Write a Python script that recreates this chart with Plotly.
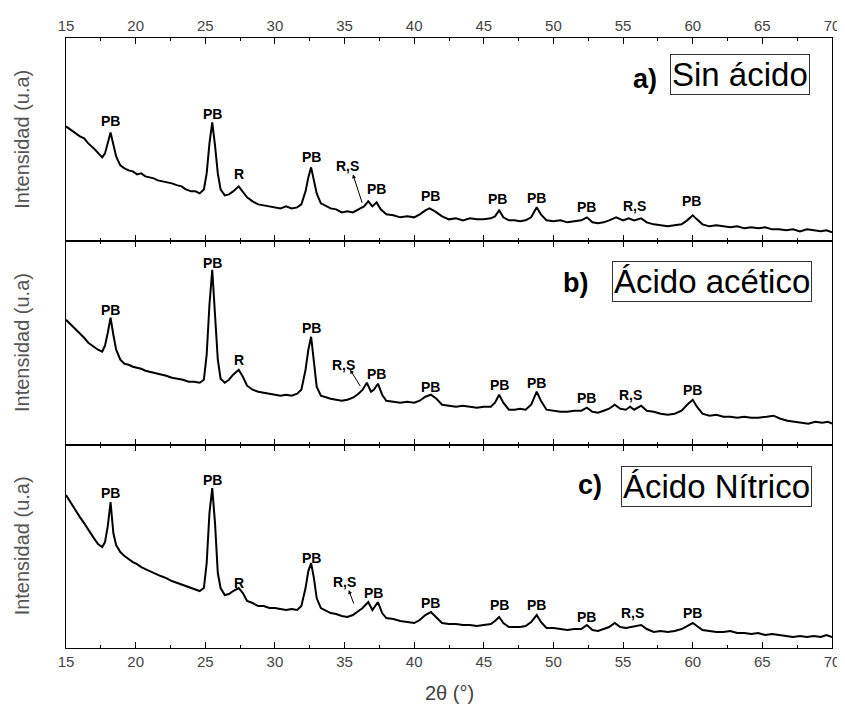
import plotly.graph_objects as go
from plotly.subplots import make_subplots

# ---------------- data (2θ, intensity in arbitrary units) ----------------
x_a = [15.0, 15.3, 15.6, 16.0, 16.3, 16.6, 17.0, 17.3, 17.6, 17.8, 18.0, 18.2, 18.4, 18.6, 18.9, 19.2, 19.5, 19.8,
       20.1, 20.4, 20.7, 21.0, 21.3, 21.6, 22.0, 22.3, 22.6, 23.0, 23.3, 23.6, 24.0, 24.3, 24.6, 24.9, 25.1, 25.3,
       25.5, 25.7, 25.9, 26.1, 26.4, 26.7, 27.0, 27.4, 27.7, 28.0, 28.4, 28.8, 29.2, 29.6, 30.0, 30.4, 30.8, 31.2,
       31.6, 31.9, 32.2, 32.4, 32.6, 32.8, 33.0, 33.3, 33.7, 34.0, 34.4, 34.8, 35.2, 35.6, 36.0, 36.4, 36.7, 37.0,
       37.3, 37.6, 38.0, 38.5, 39.0, 39.5, 40.0, 40.4, 40.8, 41.1, 41.5, 42.0, 42.5, 43.0, 43.5, 44.0, 44.5, 45.0,
       45.5, 45.8, 46.1, 46.4, 46.8, 47.2, 47.6, 48.0, 48.4, 48.8, 49.1, 49.5, 50.0, 50.5, 51.0, 51.5, 52.0, 52.4,
       52.8, 53.2, 53.6, 54.0, 54.5, 55.0, 55.4, 55.8, 56.3, 56.7, 57.2, 57.7, 58.2, 58.7, 59.2, 59.6, 60.0, 60.3,
       60.7, 61.2, 61.7, 62.2, 62.7, 63.2, 63.7, 64.2, 64.7, 65.2, 65.7, 66.2, 66.7, 67.2, 67.7, 68.2, 68.7, 69.2,
       69.6, 70.0]
y_a = [115, 112, 109, 105, 103, 98, 93, 88, 84, 88, 98, 109, 97, 85, 76, 73, 71, 70,
       67, 68, 65, 64, 63, 61, 60, 59, 58, 56, 55, 52, 50, 50, 48, 52, 68, 98,
       119, 96, 68, 52, 46, 47, 50, 55, 50, 44, 40, 37, 36, 35, 34, 33, 35, 33,
       34, 37, 50, 64, 74, 62, 48, 38, 35, 33, 32, 29, 30, 29, 32, 35, 40, 35,
       39, 32, 27, 26, 24, 25, 24, 27, 31, 33, 30, 25, 22, 23, 21, 23, 22, 22,
       23, 25, 31, 24, 21, 21, 20, 21, 24, 34, 27, 21, 20, 21, 19, 20, 21, 24,
       19, 18, 19, 21, 24, 21, 23, 21, 23, 19, 17, 16, 15, 16, 17, 21, 26, 22,
       17, 15, 16, 15, 14, 15, 13, 14, 13, 14, 12, 12, 11, 12, 10, 12, 11, 10,
       11, 9]

x_b = [15.0, 15.3, 15.6, 16.0, 16.3, 16.6, 17.0, 17.3, 17.6, 17.8, 18.0, 18.2, 18.4, 18.6, 18.9, 19.2, 19.5, 19.8,
       20.1, 20.4, 20.7, 21.0, 21.4, 21.8, 22.2, 22.6, 23.0, 23.4, 23.8, 24.2, 24.6, 24.9, 25.1, 25.3, 25.5, 25.7,
       25.9, 26.1, 26.4, 26.7, 27.0, 27.4, 27.7, 28.0, 28.4, 28.8, 29.2, 29.6, 30.0, 30.4, 30.8, 31.2, 31.6, 31.9,
       32.2, 32.4, 32.6, 32.8, 33.0, 33.3, 33.7, 34.0, 34.4, 34.8, 35.2, 35.6, 36.0, 36.3, 36.6, 36.9, 37.1, 37.4,
       37.7, 38.0, 38.5, 39.0, 39.5, 40.0, 40.4, 40.8, 41.2, 41.6, 42.0, 42.5, 43.0, 43.5, 44.0, 44.5, 45.0, 45.5,
       45.8, 46.1, 46.4, 46.8, 47.2, 47.6, 48.0, 48.4, 48.8, 49.1, 49.5, 50.0, 50.5, 51.0, 51.5, 52.0, 52.4, 52.8,
       53.2, 53.6, 54.0, 54.4, 54.8, 55.2, 55.5, 55.8, 56.3, 56.7, 57.2, 57.7, 58.2, 58.7, 59.2, 59.6, 60.0, 60.3,
       60.7, 61.2, 61.7, 62.2, 62.7, 63.2, 63.7, 64.2, 64.7, 65.3, 65.8, 66.3, 66.8, 67.3, 67.8, 68.3, 68.8, 69.3,
       69.7, 70.0]
y_b = [125, 121, 117, 111, 107, 102, 98, 95, 93, 99, 112, 127, 110, 95, 85, 81, 80, 78,
       77, 76, 74, 73, 72, 71, 69, 67, 66, 65, 63, 63, 62, 65, 90, 140, 175, 130,
       85, 66, 62, 65, 70, 75, 68, 59, 55, 53, 52, 51, 50, 49, 50, 49, 51, 55,
       75, 95, 108, 85, 58, 49, 47, 46, 45, 44, 45, 47, 51, 55, 62, 53, 55, 61,
       50, 44, 43, 42, 43, 42, 44, 48, 50, 46, 40, 39, 38, 39, 38, 37, 38, 38,
       42, 50, 42, 35, 35, 36, 35, 40, 53, 44, 35, 34, 33, 33, 34, 34, 37, 33,
       32, 34, 36, 40, 36, 35, 38, 35, 39, 34, 33, 31, 30, 31, 34, 40, 45, 38,
       31, 29, 30, 28, 28, 27, 28, 27, 27, 28, 29, 26, 24, 23, 22, 21, 23, 22,
       23, 21]

x_c = [15.0, 15.3, 15.6, 16.0, 16.3, 16.6, 17.0, 17.3, 17.6, 17.8, 18.0, 18.2, 18.4, 18.6, 18.9, 19.2, 19.5, 19.8,
       20.1, 20.4, 20.7, 21.0, 21.4, 21.8, 22.2, 22.6, 23.0, 23.4, 23.8, 24.2, 24.6, 24.9, 25.1, 25.3, 25.5, 25.7,
       25.9, 26.1, 26.4, 26.7, 27.0, 27.4, 27.7, 28.0, 28.4, 28.8, 29.2, 29.6, 30.0, 30.4, 30.8, 31.2, 31.6, 31.9,
       32.2, 32.4, 32.6, 32.8, 33.0, 33.3, 33.7, 34.0, 34.4, 34.8, 35.2, 35.6, 36.0, 36.3, 36.7, 37.0, 37.4, 37.7,
       38.0, 38.5, 39.0, 39.5, 40.0, 40.4, 40.8, 41.2, 41.6, 42.0, 42.5, 43.0, 43.5, 44.0, 44.5, 45.0, 45.5, 45.8,
       46.1, 46.4, 46.8, 47.2, 47.6, 48.0, 48.4, 48.8, 49.1, 49.5, 50.0, 50.5, 51.0, 51.5, 52.0, 52.4, 52.8, 53.2,
       53.6, 54.0, 54.4, 54.8, 55.2, 55.6, 56.0, 56.3, 56.7, 57.2, 57.7, 58.2, 58.7, 59.2, 59.6, 60.0, 60.3, 60.7,
       61.2, 61.7, 62.2, 62.7, 63.2, 63.7, 64.2, 64.7, 65.2, 65.7, 66.2, 66.7, 67.2, 67.7, 68.2, 68.7, 69.2, 69.6,
       70.0]
y_c = [153, 146, 140, 131, 125, 118, 110, 104, 101, 106, 122, 146, 115, 103, 96, 92, 89, 86,
       84, 81, 79, 77, 75, 72, 70, 67, 65, 63, 61, 59, 57, 60, 85, 135, 160, 125,
       75, 60, 53, 54, 57, 60, 55, 47, 45, 42, 42, 40, 40, 39, 38, 39, 38, 42,
       60, 77, 85, 70, 50, 40, 37, 35, 34, 32, 31, 33, 37, 40, 46, 38, 46, 35,
       30, 29, 27, 26, 25, 28, 33, 36, 30, 25, 24, 24, 23, 23, 22, 23, 24, 27,
       31, 25, 21, 21, 21, 22, 26, 33, 26, 20, 20, 19, 18, 19, 19, 23, 18, 17,
       19, 21, 25, 21, 20, 21, 22, 23, 19, 16, 17, 16, 17, 19, 22, 25, 22, 18,
       17, 16, 16, 17, 15, 15, 14, 15, 13, 14, 13, 12, 11, 12, 11, 12, 11, 13,
       11]

# peak labels: (text, 2θ position, height)
labels_a = [("PB", 18.2, 120), ("PB", 25.5, 127), ("R", 27.4, 67), ("PB", 32.6, 84), ("R,S", 35.2, 75),
            ("PB", 37.3, 52), ("PB", 41.2, 45), ("PB", 46.0, 42), ("PB", 48.8, 43), ("PB", 52.4, 34),
            ("R,S", 55.8, 35), ("PB", 59.9, 40)]
labels_b = [("PB", 18.2, 135), ("PB", 25.5, 182), ("R", 27.4, 85), ("PB", 32.6, 117), ("R,S", 34.9, 80),
            ("PB", 37.3, 71), ("PB", 41.2, 58), ("PB", 46.1, 60), ("PB", 48.8, 62), ("PB", 52.4, 47),
            ("R,S", 55.5, 50), ("PB", 60.0, 55)]
labels_c = [("PB", 18.2, 155), ("PB", 25.5, 168), ("R", 27.4, 65), ("PB", 32.6, 90), ("R,S", 35.0, 66),
            ("PB", 37.1, 55), ("PB", 41.2, 45), ("PB", 46.1, 43), ("PB", 48.8, 43), ("PB", 52.4, 31),
            ("R,S", 55.7, 35), ("PB", 60.0, 35)]
# arrows from R,S label (tip) to peak (tail)
arrows = [((35.6, 67), (36.3, 37)), ((35.4, 75), (36.2, 57)), ((35.3, 58), (35.7, 43))]

panel_tags = ["a)", "b)", "c)"]
panel_names = ["Sin ácido", "Ácido acético", "Ácido Nítrico"]
tag_pos = [(56.6, 162), (51.6, 162), (52.6, 163)]
name_pos = [(63.4, 167), (61.4, 163), (61.7, 162)]

x_ticks = [15, 20, 25, 30, 35, 40, 45, 50, 55, 60, 65, 70]

# ---------------- figure ----------------
fig = make_subplots(rows=3, cols=1, shared_xaxes=True, vertical_spacing=0)

for i, (xs, ys) in enumerate([(x_a, y_a), (x_b, y_b), (x_c, y_c)]):
    fig.add_trace(go.Scatter(x=xs, y=ys, mode="lines", line=dict(color="black", width=2),
                             showlegend=False, hoverinfo="skip"), row=i + 1, col=1)

tick_font = dict(family="Liberation Sans Narrow, Arial Narrow, Liberation Sans, Arial", size=15, color="#444444")
for r in range(1, 4):
    fig.update_xaxes(range=[15, 70], tickvals=x_ticks, ticks="inside", ticklen=6, tickwidth=1,
                     tickcolor="black", showline=True, linecolor="black", linewidth=1,
                     mirror="allticks", showgrid=False, zeroline=False, automargin=False,
                     minor=dict(dtick=2.5, tick0=15, ticks="inside", ticklen=3, tickcolor="black", showgrid=False),
                     tickfont=tick_font, showticklabels=(r in (1, 3)), row=r, col=1)
    fig.update_yaxes(range=[0, 203.5], showticklabels=False, ticks="", showline=True, linecolor="black",
                     linewidth=1, mirror=True, showgrid=False, zeroline=False, automargin=False, row=r, col=1)
fig.update_xaxes(side="top", row=1, col=1)

annotations = []
yrefs = ["y", "y2", "y3"]
lab_font = dict(family="Liberation Sans, Arial", size=14, color="black")
for yr, labels in zip(yrefs, [labels_a, labels_b, labels_c]):
    for txt, xv, yv in labels:
        annotations.append(dict(text="<b>%s</b>" % txt, x=xv, y=yv, xref="x", yref=yr, showarrow=False,
                                font=lab_font, xanchor="center", yanchor="middle"))
for yr, ((tx, ty), (sx, sy)) in zip(yrefs, arrows):
    annotations.append(dict(text="", x=tx, y=ty, ax=sx, ay=sy, xref="x", yref=yr, axref="x", ayref=yr,
                            showarrow=True, arrowhead=2, arrowsize=0.8, arrowwidth=1, arrowcolor="black"))
for yr, tag, name, (tx, ty), (nx, ny) in zip(yrefs, panel_tags, panel_names, tag_pos, name_pos):
    annotations.append(dict(text="<b>%s</b>" % tag, x=tx, y=ty, xref="x", yref=yr, showarrow=False,
                            font=dict(family="Liberation Sans, Arial", size=27, color="black"),
                            xanchor="center", yanchor="middle"))
    annotations.append(dict(text=name, x=nx, y=ny, xref="x", yref=yr, showarrow=False,
                            font=dict(family="Liberation Sans, Arial", size=33, color="black"),
                            xanchor="center", yanchor="middle", bordercolor="#333333", borderwidth=1,
                            borderpad=1, bgcolor="white"))

# y-axis titles, one per panel
for k in range(3):
    annotations.append(dict(text="Intensidad (u.a)", x=-0.0574, y=(2 - k) / 3 + 1 / 6, xref="paper", yref="paper",
                            textangle=-90, showarrow=False, xanchor="center", yanchor="middle",
                            font=dict(family="Liberation Sans, Arial", size=20, color="#555555")))
# x-axis title
annotations.append(dict(text="2θ (°)", x=0.5, y=-0.074, xref="paper", yref="paper", showarrow=False,
                        xanchor="center", yanchor="middle",
                        font=dict(family="Liberation Sans, Arial", size=20, color="#444444")))

# the page adds an 8px body margin, so the figure is 8px smaller and offset accordingly
fig.update_layout(width=837, height=698, margin=dict(l=58, r=13, t=30, b=58),
                  plot_bgcolor="white", paper_bgcolor="white", annotations=annotations)

fig.write_html("out.html")
